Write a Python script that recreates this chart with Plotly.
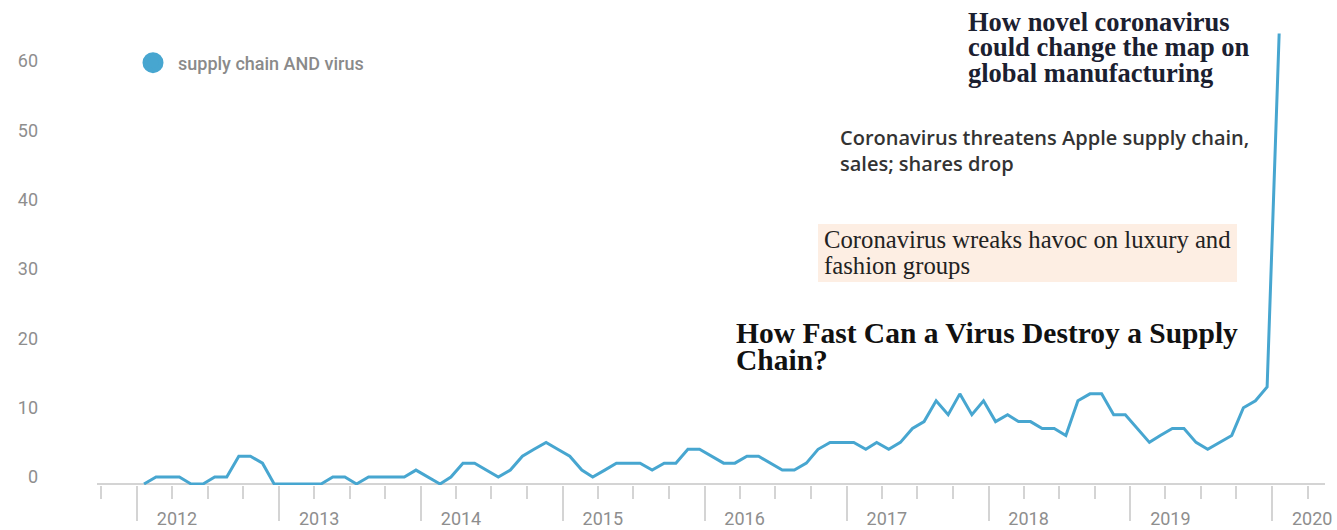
import pandas as pd
import plotly.graph_objects as go

# ---------------- data ----------------
months = pd.date_range("2012-01-01", "2020-01-01", freq="MS").strftime("%Y-%m").tolist()
interest = [
    0, 1, 1, 1, 0, 0, 1, 1, 4, 4, 3, 0,        # 2012
    0, 0, 0, 0, 1, 1, 0, 1, 1, 1, 1, 2,        # 2013
    1, 0, 1, 3, 3, 2, 1, 2, 4, 5, 6, 5,        # 2014
    4, 2, 1, 2, 3, 3, 3, 2, 3, 3, 5, 5,        # 2015
    4, 3, 3, 4, 4, 3, 2, 2, 3, 5, 6, 6,        # 2016
    6, 5, 6, 5, 6, 8, 9, 12, 10, 13, 10, 12,   # 2017
    9, 10, 9, 9, 8, 8, 7, 12, 13, 13, 10, 10,  # 2018
    8, 6, 7, 8, 8, 6, 5, 6, 7, 11, 12, 14,     # 2019
    65,                                        # 2020
]
series_name = "supply chain AND virus"
y_ticks = [0, 10, 20, 30, 40, 50, 60]

headline_1 = ["How novel coronavirus", "could change the map on", "global manufacturing"]
headline_2 = ["Coronavirus threatens Apple supply chain,", "sales; shares drop"]
headline_3 = ["Coronavirus wreaks havoc on luxury and", "fashion groups"]
headline_4 = ["How Fast Can a Virus Destroy a Supply", "Chain?"]

# ---------------- layout geometry ----------------
W, H = 1337, 530
ML, MR, MT, MB = 97, 12, 25, 45
PW, PH = W - ML - MR, H - MT - MB


def px(x):
    return (x - ML) / PW


def py(y):
    return (H - MB - y) / PH


BLUE = "#47a6d0"
GREY = "#8e8e8e"

# monthly values drawn mid-month
x_dates = pd.to_datetime(months) + pd.Timedelta(days=18)

fig = go.Figure()
fig.add_trace(go.Scatter(
    x=x_dates, y=interest, mode="lines",
    line=dict(color=BLUE, width=3), showlegend=False, hoverinfo="skip",
))
fig.add_trace(go.Scatter(
    x=[None], y=[None], mode="markers", name=series_name,
    marker=dict(color=BLUE, size=20, line=dict(color=BLUE, width=5)),
))


def note(text, x, y, size, family, color, weight="normal"):
    fig.add_annotation(
        text=text, xref="paper", yref="paper", x=px(x), y=py(y),
        xanchor="left", yanchor="middle", showarrow=False,
        font=dict(family=family, size=size, color=color, weight=weight),
    )


SERIF = "Liberation Serif"
for line, yy in zip(headline_1, [22, 47, 73]):
    note(line, 966, yy, 26.5, SERIF, "#1b2030", "bold")
for line, yy in zip(headline_2, [137, 163]):
    note(line, 838, yy, 20, "Open Sans", "#333333", 600)

fig.add_shape(type="rect", xref="paper", yref="paper",
              x0=px(818), x1=px(1237), y0=py(282), y1=py(224),
              fillcolor="#fdeee3", line=dict(width=0), layer="below")
for line, yy in zip(headline_3, [240, 265]):
    note(line, 822, yy, 24.7, SERIF, "#222222")
for line, yy in zip(headline_4, [333, 360]):
    note(line, 734, yy, 29.5, SERIF, "#111111", "bold")

fig.update_layout(
    width=W, height=H,
    margin=dict(l=ML, r=MR, t=MT, b=MB, autoexpand=False),
    paper_bgcolor="white", plot_bgcolor="white",
    showlegend=True,
    legend=dict(x=px(128), y=py(63), xanchor="left", yanchor="middle",
                bgcolor="rgba(0,0,0,0)", itemwidth=40,
                font=dict(family="Roboto", size=18, color="#8a8a8a", weight=500)),
    xaxis=dict(
        type="date", automargin=False,
        range=["2011-09-20", "2020-05-16"],
        showgrid=False, zeroline=False, showline=False,
        tick0="2012-01-01", dtick="M12", tickformat="%Y",
        ticks="outside", ticklen=35, tickwidth=2, tickcolor="#d4d4d4",
        minor=dict(dtick="M3", tick0="2012-01-01", ticks="outside",
                   ticklen=13, tickwidth=2, tickcolor="#d4d4d4", showgrid=False),
        ticklabelshift=40, ticklabelstandoff=-18,
        tickfont=dict(family="Roboto", size=18, color=GREY),
    ),
    yaxis=dict(
        automargin=False,
        range=[-0.15, 66.23],
        tickvals=y_ticks,
        showgrid=False, showline=False, ticks="",
        zeroline=True, zerolinecolor="#d4d4d4", zerolinewidth=2,
        ticklabelshift=-7, ticklabelstandoff=58,
        tickfont=dict(family="Roboto", size=18, color=GREY),
    ),
)

fig.write_html("out.html")
